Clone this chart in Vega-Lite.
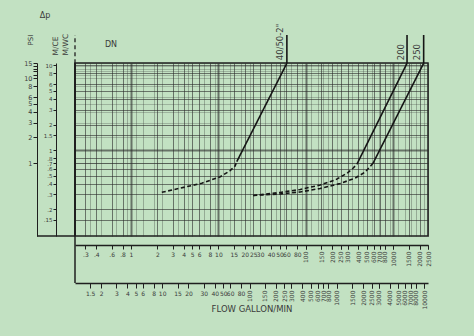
{
  "$schema": "https://vega.github.io/schema/vega-lite/v6.json",
  "width": 353,
  "height": 173,
  "autosize": {"type": "none"},
  "padding": {"left": 75, "top": 63, "right": 46, "bottom": 100},
  "background": "#c2e1c2",
  "config": {
    "view": {"stroke": "#1f1f1f", "strokeWidth": 1.5},
    "axis": {
      "labelFont": "DejaVu Sans", "labelFontSize": 6.5, "labelColor": "#3a3a3a",
      "titleFont": "DejaVu Sans", "titleFontWeight": "normal", "titleColor": "#3a3a3a",
      "domainColor": "#1f1f1f", "tickColor": "#1f1f1f", "gridColor": "#2a2a2a",
      "labelOverlap": false, "labelBound": false, "labelFlush": false
    },
    "text": {"font": "DejaVu Sans", "color": "#3a3a3a"}
  },
  "datasets": {
    "curves": [
      {"series": "40/50-2\"", "part": "extrapolated", "flow": 2.25, "dp": 0.452},
      {"series": "40/50-2\"", "part": "extrapolated", "flow": 6.45, "dp": 0.577},
      {"series": "40/50-2\"", "part": "extrapolated", "flow": 10.5, "dp": 0.69},
      {"series": "40/50-2\"", "part": "extrapolated", "flow": 13.6, "dp": 0.812},
      {"series": "40/50-2\"", "part": "extrapolated", "flow": 15.5, "dp": 0.922},
      {"series": "40/50-2\"", "part": "extrapolated", "flow": 16.2, "dp": 1.036},
      {"series": "40/50-2\"", "part": "measured", "flow": 16.2, "dp": 1.036},
      {"series": "40/50-2\"", "part": "measured", "flow": 60.7, "dp": 15.0},
      {"series": "200", "part": "extrapolated", "flow": 25.0, "dp": 0.415},
      {"series": "200", "part": "extrapolated", "flow": 50.9, "dp": 0.45},
      {"series": "200", "part": "extrapolated", "flow": 86.3, "dp": 0.488},
      {"series": "200", "part": "extrapolated", "flow": 146, "dp": 0.551},
      {"series": "200", "part": "extrapolated", "flow": 217, "dp": 0.631},
      {"series": "200", "part": "extrapolated", "flow": 298, "dp": 0.763},
      {"series": "200", "part": "extrapolated", "flow": 349, "dp": 0.873},
      {"series": "200", "part": "extrapolated", "flow": 385, "dp": 0.973},
      {"series": "200", "part": "measured", "flow": 385, "dp": 0.973},
      {"series": "200", "part": "measured", "flow": 1439, "dp": 15.0},
      {"series": "250", "part": "extrapolated", "flow": 25.0, "dp": 0.415},
      {"series": "250", "part": "extrapolated", "flow": 50.9, "dp": 0.432},
      {"series": "250", "part": "extrapolated", "flow": 86.3, "dp": 0.456},
      {"series": "250", "part": "extrapolated", "flow": 146, "dp": 0.501},
      {"series": "250", "part": "extrapolated", "flow": 248, "dp": 0.574},
      {"series": "250", "part": "extrapolated", "flow": 368, "dp": 0.666},
      {"series": "250", "part": "extrapolated", "flow": 479, "dp": 0.784},
      {"series": "250", "part": "extrapolated", "flow": 587, "dp": 0.992},
      {"series": "250", "part": "measured", "flow": 587, "dp": 0.992},
      {"series": "250", "part": "measured", "flow": 2230, "dp": 15.0}
    ],
    "labels": [
      {"series": "40/50-2\"", "flow": 60.7},
      {"series": "200", "flow": 1439},
      {"series": "250", "flow": 2230}
    ]
  },
  "resolve": {"scale": {"x": "independent", "y": "independent"}},
  "layer": [
    {
      "layer": [
        {
          "data": {"name": "curves"},
          "mark": {"type": "line", "color": "#151515", "strokeWidth": 1.6},
          "encoding": {
            "x": {
              "field": "flow", "type": "quantitative",
              "scale": {"type": "log", "domain": [0.2285, 2500], "nice": false},
              "axis": {
                "orient": "bottom", "offset": 9, "title": null,
                "values": [0.3, 0.4, 0.6, 0.8, 1, 2, 3, 4, 5, 6, 8, 10, 15, 20, 25, 30, 40, 50, 60, 80, 100, 150, 200, 250, 300, 400, 500, 600, 700, 800, 1000, 1500, 2000, 2500],
                "labelExpr": "datum.value >= 100 ? '' : datum.value < 1 ? slice(toString(datum.value), 1) : toString(datum.value)",
                "labelFontSize": 6,
                "tickSize": 4, "labelPadding": 2, "domainWidth": 1.3,
                "grid": true, "gridOpacity": 0.6,
                "gridWidth": {"condition": {"test": "abs(log(datum.value)/LN10 - round(log(datum.value)/LN10)) < 0.001", "value": 2}, "value": 1}
              }
            },
            "y": {
              "field": "dp", "type": "quantitative",
              "scale": {"type": "log", "domain": [0.138, 15.1], "nice": false},
              "axis": {
                "orient": "left", "offset": 38, "title": "PSI",
                "values": [1, 2, 3, 4, 5, 6, 8, 10, 11, 12, 13, 14, 15],
                "labelExpr": "datum.value > 10 && datum.value < 15 ? '' : toString(datum.value)",
                "tickSize": 4, "labelPadding": 1,
                "titleAngle": 270, "titleX": -7, "titleY": -18, "titleAlign": "left", "titleBaseline": "middle", "titleFontSize": 7,
                "grid": true, "gridOpacity": 0.25
              }
            },
            "detail": {"field": "series"},
            "strokeDash": {
              "field": "part", "type": "nominal",
              "scale": {"domain": ["measured", "extrapolated"], "range": [[1, 0], [4, 2.5]]},
              "legend": null
            }
          }
        },
        {
          "data": {"name": "labels"},
          "mark": {"type": "rule", "color": "#151515", "strokeWidth": 1.6},
          "encoding": {
            "x": {"field": "flow", "type": "quantitative"},
            "y": {"datum": 15.0},
            "y2": {"datum": 32.3}
          }
        },
        {
          "data": {"name": "labels"},
          "mark": {"type": "text", "angle": 270, "align": "left", "baseline": "bottom", "fontSize": 8.5, "dx": 3, "dy": -1.5},
          "encoding": {
            "x": {"field": "flow", "type": "quantitative"},
            "y": {"datum": 15.0},
            "text": {"field": "series"}
          }
        },
        {
          "data": {"values": [{}]},
          "mark": {"type": "text", "text": "Δp", "fontSize": 8, "align": "center", "baseline": "middle"},
          "encoding": {"x": {"datum": 0.1038}, "y": {"datum": 54.8}}
        },
        {
          "data": {"values": [{}]},
          "mark": {"type": "text", "text": "DN", "fontSize": 8, "align": "center", "baseline": "middle"},
          "encoding": {"x": {"datum": 0.59}, "y": {"datum": 24.9}}
        },
        {
          "data": {"values": [{}]},
          "mark": {"type": "rule", "color": "#1f1f1f", "strokeWidth": 1.3, "strokeDash": [4, 3]},
          "encoding": {"x": {"datum": 0.2285}, "y": {"datum": 15.0}, "y2": {"datum": 32.3}}
        }
      ]
    },
    {
      "data": {"values": [{}]},
      "mark": {"type": "rule", "color": "#1f1f1f", "strokeWidth": 1.5},
      "encoding": {
        "x": {
          "datum": 0.2285, "type": "quantitative",
          "scale": {"type": "log", "domain": [0.2285, 2500], "nice": false},
          "axis": {
            "orient": "bottom", "offset": 9, "title": null, "domain": false, "grid": false,
            "values": [100, 150, 200, 250, 300, 400, 500, 600, 700, 800, 1000, 1500, 2000, 2500],
            "labelExpr": "toString(datum.value)",
            "labelFontSize": 6,
            "tickSize": 4, "labelPadding": 2,
            "labelAngle": 270, "labelAlign": "right", "labelBaseline": "middle"
          }
        }
      }
    },
    {
      "layer": [
        {
          "data": {"values": [{}]},
          "mark": {"type": "rule", "color": "#1f1f1f", "strokeWidth": 1.5},
          "encoding": {
            "x": {
              "datum": 1.0062, "type": "quantitative",
              "scale": {"type": "log", "domain": [1.0062, 11008], "nice": false},
              "axis": {
                "orient": "bottom", "offset": 47, "title": "FLOW GALLON/MIN",
                "values": [1, 1.5, 2, 3, 4, 5, 6, 8, 10, 15, 20, 30, 40, 50, 60, 80, 100, 150, 200, 250, 300, 400, 500, 600, 700, 800, 1000, 1500, 2000, 2500, 3000, 4000, 5000, 6000, 7000, 8000, 10000],
                "labelExpr": "datum.value >= 100 ? '' : toString(datum.value)",
                "labelFontSize": 6,
                "tickSize": 5, "labelPadding": 2, "domainWidth": 1.5,
                "titleFontSize": 8.5, "titleY": 25, "titleBaseline": "middle",
                "grid": true, "gridOpacity": 0.3
              }
            },
            "y": {
              "datum": 0.0271, "type": "quantitative",
              "scale": {"type": "log", "domain": [0.09702, 10.6164], "nice": false},
              "axis": {
                "orient": "left", "offset": 19, "title": ["M/CE", "M/WC"],
                "values": [0.15, 0.2, 0.3, 0.4, 0.5, 0.6, 0.7, 0.8, 1, 1.5, 2, 3, 4, 5, 6, 8, 10],
                "labelExpr": "datum.value < 1 ? slice(toString(datum.value), 1) : toString(datum.value)",
                "labelFontSize": 5.5,
                "tickSize": 3, "labelPadding": 1,
                "titleAngle": 270, "titleX": -1, "titleY": -8, "titleAlign": "left", "titleBaseline": "middle", "titleFontSize": 7.5, "titleLineHeight": 10,
                "grid": true, "gridOpacity": 0.6,
                "gridWidth": {"condition": {"test": "datum.value == 1", "value": 2}, "value": 1}
              }
            },
            "y2": {"datum": 10.6164}
          }
        },
        {
          "data": {"values": [{}]},
          "mark": {"type": "rule", "color": "#1f1f1f", "strokeWidth": 1.3},
          "encoding": {
            "x": {"datum": 0.37},
            "x2": {"datum": 1.0062},
            "y": {"datum": 0.09702}
          }
        }
      ]
    },
    {
      "data": {"values": [{}]},
      "mark": {"type": "rule", "color": "#1f1f1f", "strokeWidth": 1.5},
      "encoding": {
        "x": {
          "datum": 1.0062, "type": "quantitative",
          "scale": {"type": "log", "domain": [1.0062, 11008], "nice": false},
          "axis": {
            "orient": "bottom", "offset": 47, "title": null, "domain": false, "grid": false,
            "values": [100, 150, 200, 250, 300, 400, 500, 600, 700, 800, 1000, 1500, 2000, 2500, 3000, 4000, 5000, 6000, 7000, 8000, 10000],
            "labelExpr": "toString(datum.value)",
            "labelFontSize": 6,
            "tickSize": 5, "labelPadding": 2,
            "labelAngle": 270, "labelAlign": "right", "labelBaseline": "middle"
          }
        }
      }
    }
  ]
}
